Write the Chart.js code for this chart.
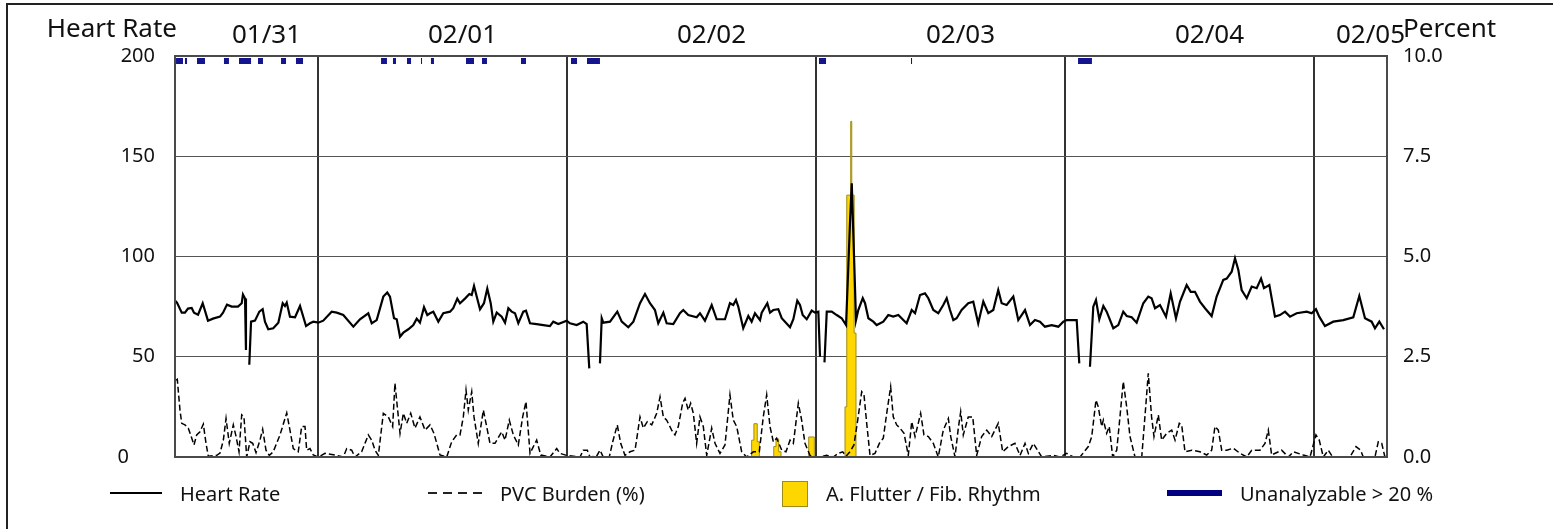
<!DOCTYPE html>
<html>
<head>
<meta charset="utf-8">
<script src="https://cdn.jsdelivr.net/npm/chart.js@4.4.1/dist/chart.umd.min.js"></script>
<style>
  html, body { margin: 0; padding: 0; background: #fff; }
  #wrap { position: relative; width: 1553px; height: 529px; overflow: hidden; font-family: 'Noto Sans', sans-serif; }
  #frame { position: absolute; left: 6px; top: 3px; width: 1600px; height: 600px; border: 2px solid #222; box-sizing: border-box; }
  #chart-box { position: absolute; left: 0; top: 0; width: 1553px; height: 529px; }
  .leg { position: absolute; top: 481px; height: 26px; line-height: 26px; font-size: 20px; color: #111; white-space: nowrap; }
  .sym { position: absolute; }
</style>
</head>
<body>
<div id="wrap">
  <div id="frame"></div>
  <div id="chart-box"><canvas id="chart-hr"></canvas></div>
  <div class="sym" style="left:110px; top:492px; width:52px; height:2px; background:#000;"></div>
  <div class="leg" style="left:180px;">Heart Rate</div>
  <div class="sym" style="left:428px; top:492px; width:56px; height:1.5px; background:repeating-linear-gradient(90deg, #222 0 9px, transparent 9px 15px);"></div>
  <div class="leg" style="left:500px;">PVC Burden (%)</div>
  <div class="sym" style="left:782px; top:481px; width:24px; height:24px; background:#ffd700; border:1px solid #9c8a1a;"></div>
  <div class="leg" style="left:826px;">A. Flutter / Fib. Rhythm</div>
  <div class="sym" style="left:1167px; top:490px; width:55px; height:6px; background:#000080;"></div>
  <div class="leg" style="left:1240px;">Unanalyzable &gt; 20 %</div>
</div>
<script>
// x values are hours since 01/31 00:00
const X_MIN = 10.22;
const X_MAX = 127.04;
const dayLabels = ['01/31', '02/01', '02/02', '02/03', '02/04', '02/05'];
const dayBoundaries = [24, 48, 72, 96, 120];

// --- Heart rate [hour, bpm], null = gap ---
const hrReadings = [
  [10.22,78],[10.41,77],[10.87,72],[11.18,72],[11.47,74],[11.83,74.3],[12.05,72],[12.44,71],[12.89,76.7],[13.40,68],
  [13.88,69],[14.56,70],[14.85,72],[15.23,76],[15.69,75],[16.00,75],[16.29,75],[16.65,76.7],[16.77,81],[16.97,79],
  [17.06,53.4],[17.2,null],[17.38,46],[17.55,67.5],[17.93,68],[18.35,72.5],[18.67,73.7],[18.89,67.5],[19.21,63.7],[19.69,64.2],
  [20.18,67],[20.60,76.7],[20.82,75.3],[20.99,77],[21.30,70],[21.79,69.7],[22.27,75.3],[22.85,65.3],[23.23,66.7],[23.55,67.5],
  [24.03,67],[24.51,68],[25.32,72.5],[25.81,72],[26.44,70.8],[27.41,65],[28.05,68.7],[28.85,71.7],[29.18,66.7],[29.66,68.3],
  [30.30,80],[30.68,82],[30.94,80],[31.33,69.2],[31.59,68.7],[31.91,60],[32.23,62],[32.71,63.7],[33.19,65.8],[33.52,69],
  [33.83,67],[34.22,74.7],[34.54,70.8],[34.80,71.7],[35.12,72.5],[35.60,67.5],[36.08,71.7],[36.73,72.5],[37.04,74.2],[37.43,79],
  [37.69,76.7],[38.17,79],[38.59,81.3],[38.82,80.8],[39.04,85.3],[39.30,80],[39.62,73.7],[40.00,76.7],[40.32,84],[40.65,76.7],
  [40.90,67.5],[41.23,72],[41.71,70],[42.03,67],[42.35,74.2],[42.67,72.5],[42.99,71.7],[43.31,66.7],[43.79,72.5],[44.05,73],
  [44.44,66.7],[45.08,66.3],[45.72,65.8],[46.36,65.3],[46.68,67.5],[47.16,66.3],[47.97,68],
  [48.29,66.7],[48.94,65.8],[49.57,67.5],[49.90,66.3],[50.15,44.2],[50.6,null],[51.18,46.7],[51.35,69.2],[51.50,67],[52.15,67.5],
  [52.85,72.5],[53.28,67.5],[53.91,64.7],[54.40,67.5],[55.04,76.7],[55.52,81.3],[56.00,76.7],[56.48,73.3],[56.80,66.7],[57.29,72],
  [57.61,66.7],[58.25,66.3],[58.89,71.7],[59.21,73.3],[59.69,70.8],[60.50,69.7],[60.82,71.7],[61.30,68],[61.95,75.8],[62.43,68.7],
  [63.23,68.7],[63.71,76.7],[64.03,75.8],[64.29,78.3],[64.51,75],[64.99,64.2],[65.48,70.3],[65.80,67.5],[66.12,71.7],[66.61,68.3],
  [66.77,72],[67.31,76.7],[67.57,72],[67.89,73.3],[68.37,73.7],[68.70,69.2],[69.50,64.7],[69.82,68.7],[70.20,78],[70.46,75.8],
  [70.72,70.8],[71.11,68.7],[71.59,73],[71.91,72],[72.23,72.5],[72.39,50],[72.6,null],[72.82,47.2],[73.04,72.5],[73.52,72.5],
  [74.00,70.8],[74.48,69.2],[74.90,65.8],[75.12,95],[75.28,117],[75.45,136.5],[75.60,111.7],[75.86,68.3],[76.08,73.3],[76.51,79.2],
  [76.73,76.7],[77.05,69.2],[77.53,67.5],[77.85,65.8],[78.49,67.5],[78.97,70.8],[79.45,70],[79.94,70.8],[80.42,68.3],[80.74,66.7],
  [81.23,73.3],[81.55,71.7],[82.03,80.8],[82.51,81.6],[82.83,79.2],[83.31,73.3],[83.79,71.7],[84.27,75.8],[84.60,79.2],[84.92,73.3],
  [85.24,68.3],[85.56,69.2],[86.04,73.3],[86.68,76.7],[87.16,77.5],[87.64,66.7],[88.13,77.5],[88.61,71.7],[89.09,73.3],[89.57,83.3],
  [89.90,76.7],[90.38,75.8],[91.02,80],[91.50,68.3],[92.15,73.3],[92.63,65.8],[93.11,68.3],[93.59,67.5],[94.07,65],[94.72,65.8],
  [95.36,65],[95.84,67.5],[96.17,68.3],[96.49,68.3],[97.13,68.3],[97.38,46.7],[97.9,null],[98.41,45],[98.73,75],[98.99,78.3],
  [99.31,68.7],[99.70,75.3],[100.02,72.5],[100.66,64.2],[101.14,65.8],[101.62,72.5],[101.95,70.3],[102.43,69.7],[102.91,67],[103.55,76.7],
  [104.03,80],[104.35,79.2],[104.68,74.2],[105.16,75.8],[105.74,70],[106.19,81.6],[106.70,69.2],[107.09,77.5],[107.73,85.8],[108.12,82.4],
  [108.53,82.4],[109.01,77.5],[109.50,74.2],[110.14,70.3],[110.62,80],[111.26,88.3],[111.59,89],[112.07,92.4],[112.39,99.1],[112.71,93.3],
  [113.03,83.3],[113.52,79.2],[114.00,85],[114.48,84.2],[114.90,89],[115.18,84.2],[115.70,85.8],[116.24,70],[116.72,70.8],[117.21,72.5],
  [117.69,70],[118.33,71.7],[119.30,72.5],[119.78,71.7],[120.19,73.7],[120.51,70],[121.06,65.3],[121.86,67.5],[122.83,68.3],[123.79,69.7],
  [124.37,80.3],[124.92,69.2],[125.56,67.5],[125.88,64.2],[126.30,67.5],[126.75,63.7]
];

// --- PVC burden [hour, %] ---
const pvcReadings = [
  [10.32,1.92],[10.44,1.94],[10.70,1.17],[10.87,0.84],[11.18,0.80],[11.50,0.72],[11.73,0.55],[12.05,0.30],[12.31,0.55],[12.63,0.63],
  [12.95,0.82],[13.21,0.34],[13.43,0.02],[14.24,0.04],[14.56,0.10],[14.88,0.42],[15.14,0.96],[15.45,0.34],[15.84,0.80],[16.10,0.52],
  [16.39,0.13],[16.65,1.05],[16.87,1.0],[17.13,0],[17.45,0.38],[17.71,0.34],[18.03,0.11],[18.41,0.42],[18.67,0.69],[18.99,0.17],
  [19.31,0.04],[19.69,0.13],[20.34,0.55],[20.99,1.10],[21.30,0.67],[21.62,0.21],[22.10,0.13],[22.43,0.76],[22.75,0.76],[22.91,0.17],
  [23.23,0.21],[23.55,0.05],[24.03,0],[24.68,0.09],[25.81,0.04],[26.44,0],[26.77,0.21],[27.25,0.17],[27.57,0],[28.21,0.13],
  [28.53,0.34],[28.85,0.55],[29.18,0.42],[29.50,0.17],[29.82,0.04],[30.30,1.09],[30.78,1.0],[31.20,0.76],[31.42,1.84],[31.68,1.17],
  [31.91,0.59],[32.23,1.09],[32.55,0.84],[32.94,1.09],[33.35,0.72],[33.83,1.0],[34.32,0.67],[34.80,0.80],[35.18,0.59],[35.76,0.05],
  [36.41,0],[36.89,0.38],[37.37,0.55],[37.69,0.55],[38.01,1.0],[38.27,1.67],[38.49,1.17],[38.82,1.63],[39.04,1.0],[39.45,0.34],
  [39.94,1.17],[40.26,0.76],[40.58,0.34],[41.06,0.34],[41.71,0.63],[42.03,0.42],[42.44,0.92],[42.83,0.55],[43.31,0.30],[43.73,1.0],
  [44.05,1.38],[44.44,0.09],[44.76,0.26],[45.08,0.42],[45.47,0.05],[46.36,0],[47.01,0.21],[47.33,0.09],[47.97,0.04],
  [49.26,0],[49.57,0.17],[49.96,0.17],[50.22,0],[50.86,0.02],[51.18,0.17],[51.50,0],[52.08,0],[52.41,0.38],[52.85,0.80],
  [53.18,0.34],[53.59,0.04],[54.08,0.13],[54.56,0.17],[55.04,1.0],[55.36,0.72],[55.74,0.88],[56.17,0.80],[56.65,1.09],[56.97,1.50],
  [57.29,1.0],[57.61,0.92],[58.09,0.67],[58.41,0.55],[58.73,0.76],[59.15,1.34],[59.38,1.46],[59.69,1.17],[59.92,1.34],[60.18,1.09],
  [60.50,0.34],[60.82,1.0],[61.14,0.76],[61.47,0.04],[61.95,0.72],[62.27,0.34],[62.75,0.09],[63.23,0.30],[63.71,1.55],[64.03,0.92],
  [64.36,0.76],[64.84,0.13],[65.32,0],[65.96,0.13],[66.54,0.13],[66.92,1.0],[67.25,1.55],[67.57,0.76],[67.89,0.38],[68.21,0.47],
  [68.70,0.17],[69.11,0.13],[69.50,0.42],[69.82,0.34],[70.30,1.34],[70.62,0.92],[70.94,0.34],[71.42,0.04],[71.91,0],[72.39,0],
  [73.04,0.04],[73.67,0],[74.15,0.09],[74.58,0.13],[74.90,0.02],[75.28,0.13],[75.66,0.30],[75.98,0.84],[76.41,1.63],[76.63,1.55],
  [76.89,0.84],[77.21,0.04],[77.69,0.09],[78.11,0.34],[78.49,0.47],[78.82,1.09],[79.20,1.75],[79.45,1.0],[79.78,0.80],[80.10,0.72],
  [80.49,0.59],[80.90,0.04],[81.23,0.88],[81.55,0.51],[81.86,0.84],[82.09,1.09],[82.41,0.55],[82.83,0.51],[83.31,0.34],[83.79,0],
  [84.27,0.67],[84.76,0.96],[84.99,0.51],[85.40,0],[85.72,0.72],[85.95,1.13],[86.20,0.55],[86.68,1.0],[87.11,1.0],[87.49,0.04],
  [87.97,0.51],[88.46,0.67],[88.94,0.51],[89.57,0.84],[90.00,0.13],[90.54,0.26],[91.18,0.34],[91.67,0.04],[92.15,0.34],[92.47,0.09],
  [92.95,0.34],[93.76,0],[94.88,0.04],[95.52,0],[96.17,0.09],[96.80,0],
  [97.45,0],[98.25,0.26],[98.58,0.51],[98.99,1.42],[99.21,1.25],[99.54,0.76],[99.70,0.92],[100.02,0.59],[100.27,0.76],[100.60,0],
  [100.99,0.17],[101.30,1.0],[101.62,1.88],[101.95,1.25],[102.27,0.51],[102.75,0],[103.40,0],[103.81,1.34],[104.03,2.09],[104.35,1.0],
  [104.58,0.51],[105.00,1.05],[105.32,0.42],[105.80,0.59],[106.29,0.67],[106.61,0.42],[107.02,0.84],[107.25,0.80],[107.57,0.13],[108.22,0.17],
  [109.01,0.13],[109.66,0.05],[110.14,0.17],[110.46,0.76],[110.78,0.67],[111.11,0.17],[111.59,0.17],[112.23,0.22],[112.87,0.09],[113.52,0],
  [114.00,0.17],[114.80,0.17],[115.28,0.34],[115.60,0.67],[115.92,0.05],[116.89,0.17],[117.53,0],[118.01,0.13],[118.97,0.05],[119.62,0],
  [120.19,0.55],[120.51,0.42],[120.90,0],[121.38,0.17],[121.80,0],[123.47,0],[124.05,0.26],[124.50,0.17],[124.75,0],[125.88,0],
  [126.20,0.38],[126.53,0.34],[126.84,0]
];

// --- A. Flutter / Fib. rhythm, stepped bins [hour, %], null = gap ---
const afTimes  = [65.80, 65.80, 66.02, 66.34, 66.54, 66.6, 67.93, 67.93, 68.15, 68.41, 68.63, 68.7, 71.30, 71.30, 71.84, 71.9, 74.80, 74.80, 74.97, 75.35, 75.45, 75.68, 75.86];
const afValues = [0, 0.42, 0.83, 0.38, 0, null, 0, 0.26, 0.45, 0.13, 0, null, 0, 0.50, 0, null, 0, 1.25, 6.53, 8.37, 6.53, 3.09, 0];

// --- Unanalyzable > 20 % periods (hours) ---
const unStarts = [10.32, 11.18, 12.34, 14.94, 16.39, 18.22, 20.44, 21.88, 30.08, 31.23, 32.58, 33.93, 34.89, 38.27, 39.81, 43.57, 48.39, 49.93, 72.29, 81.16, 97.26];
const unEnds   = [10.99, 11.38, 13.11, 15.42, 17.55, 18.70, 20.92, 22.56, 30.65, 31.52, 32.97, 34.03, 35.18, 39.04, 40.29, 44.05, 48.97, 51.18, 72.97, 81.26, 98.60];
const UN_LEVEL = 197.5;

const toPoints = (rows) => rows.map(([x, y]) => ({ x, y }));

const unPoints = [];
unStarts.forEach((s, i) => {
  unPoints.push({ x: s, y: UN_LEVEL }, { x: unEnds[i], y: UN_LEVEL }, { x: unEnds[i], y: null });
});

const afPoints = afTimes.map((x, i) => ({ x, y: afValues[i] }));

Chart.defaults.font.family = "'Noto Sans', sans-serif";
Chart.defaults.color = '#111';

// --- Titles, date labels and plot frame ---
const overlayPlugin = {
  id: 'overlay',
  afterDraw(chart) {
    const { ctx, chartArea: a, scales: { x } } = chart;
    ctx.save();
    ctx.strokeStyle = '#4a4a4a';
    ctx.lineWidth = 2;
    ctx.strokeRect(a.left, a.top, a.right - a.left, a.bottom - a.top);

    ctx.fillStyle = '#111';
    ctx.font = "26px 'Noto Sans', sans-serif";
    ctx.textBaseline = 'alphabetic';
    ctx.textAlign = 'right';
    ctx.fillText('Heart Rate', a.left + 2, a.top - 19);
    ctx.textAlign = 'left';
    ctx.fillText('Percent', a.right + 16, a.top - 19);

    ctx.textAlign = 'center';
    dayLabels.forEach((label, d) => {
      const s = Math.max(x.min, d * 24);
      const e = Math.min(x.max, (d + 1) * 24);
      const cx = (x.getPixelForValue(s) + x.getPixelForValue(e)) / 2 + 20;
      ctx.fillText(label, cx, a.top - 13);
    });
    ctx.restore();
  }
};

const ctx = document.getElementById('chart-hr').getContext('2d');
new Chart(ctx, {
  type: 'line',
  data: {
    datasets: [
      {
        label: 'Unanalyzable > 20 %',
        data: unPoints,
        yAxisID: 'y',
        borderColor: '#14148f',
        borderWidth: 6,
        borderCapStyle: 'butt',
        pointRadius: 0,
        spanGaps: false,
        order: 1,
      },
      {
        label: 'Heart Rate',
        data: toPoints(hrReadings),
        yAxisID: 'y',
        borderColor: '#000',
        borderWidth: 2.2,
        pointRadius: 0,
        tension: 0,
        spanGaps: false,
        order: 2,
      },
      {
        label: 'PVC Burden (%)',
        data: toPoints(pvcReadings),
        yAxisID: 'y1',
        borderColor: '#000',
        borderWidth: 1.5,
        borderDash: [6, 3],
        pointRadius: 0,
        tension: 0,
        order: 3,
      },
      {
        label: 'A. Flutter / Fib. Rhythm',
        data: afPoints,
        yAxisID: 'y1',
        stepped: true,
        borderColor: '#a08c10',
        borderWidth: 1,
        backgroundColor: '#ffd700',
        fill: 'origin',
        pointRadius: 0,
        spanGaps: false,
        order: 4,
      },
    ]
  },
  options: {
    responsive: true,
    maintainAspectRatio: false,
    animation: false,
    events: [],
    layout: { padding: { top: 56, bottom: 72, left: 0, right: 0 } },
    plugins: { legend: { display: false }, tooltip: { enabled: false } },
    scales: {
      x: {
        type: 'linear',
        min: X_MIN,
        max: X_MAX,
        afterBuildTicks: (scale) => { scale.ticks = dayBoundaries.map(v => ({ value: v })); },
        afterFit: (scale) => { scale.height = 0; },
        ticks: { display: false },
        grid: { color: '#333', lineWidth: 2, drawTicks: false },
        border: { display: false },
      },
      y: {
        position: 'left',
        min: 0,
        max: 200,
        afterFit: (scale) => { scale.width = 175; },
        ticks: {
          stepSize: 50,
          padding: 20,
          font: { size: 20 },
          color: '#111',
          callback: (v) => (v === 0 ? '0     ' : String(v)),
        },
        grid: { color: '#555', lineWidth: 1, drawTicks: false },
        border: { display: false },
      },
      y1: {
        position: 'right',
        min: 0,
        max: 10,
        afterFit: (scale) => { scale.width = 166; },
        ticks: {
          stepSize: 2.5,
          padding: 16,
          font: { size: 20 },
          color: '#111',
          callback: (v) => v.toFixed(1),
        },
        grid: { display: false, drawTicks: false },
        border: { display: false },
      }
    }
  },
  plugins: [overlayPlugin]
});
</script>
</body>
</html>
